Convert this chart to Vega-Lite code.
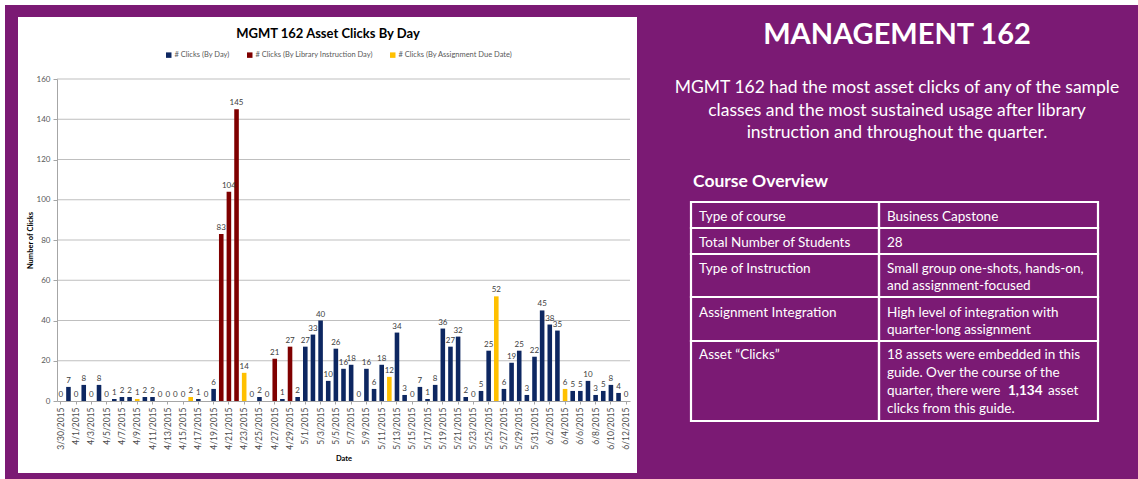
{
 "$schema": "https://vega.github.io/schema/vega-lite/v6.json",
 "background": "#7B1A74",
 "padding": 0,
 "autosize": {"type": "pad"},
 "spacing": 17,
 "bounds": "flush",
 "config": {"view": {"stroke": null}, "font": "Lato"},
 "hconcat": [
  {
   "width": 573,
   "height": 322,
   "resolve": {"scale": {"x": "independent", "y": "independent"}},
   "layer": [
    {
     "encoding": {
      "x": {"field": "x", "type": "quantitative", "scale": {"domain": [57, 630], "zero": false, "nice": false}, "axis": null},
      "y": {"field": "y", "type": "quantitative", "scale": {"domain": [79, 401], "zero": false, "nice": false, "reverse": true}, "axis": null}
     },
     "layer": [
      {
       "data": {"values": [
        {"x": 18, "x2": 637, "y": 17, "y2": 473},
        {"x": 0, "x2": 1138, "y": 0, "y2": 5},
        {"x": 0, "x2": 5, "y": 0, "y2": 479}
       ]},
       "mark": {"type": "rect", "fill": "#FFFFFF"},
       "encoding": {"x2": {"field": "x2"}, "y2": {"field": "y2"}}
      },
      {
       "data": {"values": [{"x": 328, "y": 34, "t": "MGMT 162 Asset Clicks By Day"}]},
       "mark": {"type": "text", "font": "Lato", "fontSize": 13, "fontWeight": "bold", "color": "#000000", "align": "center", "baseline": "middle"},
       "encoding": {"text": {"field": "t"}}
      }
     ]
    },
    {
     "data": {"values": [
      {"date": "3/30/2015", "clicks": 0, "series": "# Clicks (By Day)"},
      {"date": "3/31/2015", "clicks": 7, "series": "# Clicks (By Day)"},
      {"date": "4/1/2015", "clicks": 0, "series": "# Clicks (By Day)"},
      {"date": "4/2/2015", "clicks": 8, "series": "# Clicks (By Day)"},
      {"date": "4/3/2015", "clicks": 0, "series": "# Clicks (By Day)"},
      {"date": "4/4/2015", "clicks": 8, "series": "# Clicks (By Day)"},
      {"date": "4/5/2015", "clicks": 0, "series": "# Clicks (By Day)"},
      {"date": "4/6/2015", "clicks": 1, "series": "# Clicks (By Day)"},
      {"date": "4/7/2015", "clicks": 2, "series": "# Clicks (By Day)"},
      {"date": "4/8/2015", "clicks": 2, "series": "# Clicks (By Day)"},
      {"date": "4/9/2015", "clicks": 1, "series": "# Clicks (By Assignment Due Date)"},
      {"date": "4/10/2015", "clicks": 2, "series": "# Clicks (By Day)"},
      {"date": "4/11/2015", "clicks": 2, "series": "# Clicks (By Day)"},
      {"date": "4/12/2015", "clicks": 0, "series": "# Clicks (By Day)"},
      {"date": "4/13/2015", "clicks": 0, "series": "# Clicks (By Day)"},
      {"date": "4/14/2015", "clicks": 0, "series": "# Clicks (By Day)"},
      {"date": "4/15/2015", "clicks": 0, "series": "# Clicks (By Day)"},
      {"date": "4/16/2015", "clicks": 2, "series": "# Clicks (By Assignment Due Date)"},
      {"date": "4/17/2015", "clicks": 1, "series": "# Clicks (By Day)"},
      {"date": "4/18/2015", "clicks": 0, "series": "# Clicks (By Day)"},
      {"date": "4/19/2015", "clicks": 6, "series": "# Clicks (By Day)"},
      {"date": "4/20/2015", "clicks": 83, "series": "# Clicks (By Library Instruction Day)"},
      {"date": "4/21/2015", "clicks": 104, "series": "# Clicks (By Library Instruction Day)"},
      {"date": "4/22/2015", "clicks": 145, "series": "# Clicks (By Library Instruction Day)"},
      {"date": "4/23/2015", "clicks": 14, "series": "# Clicks (By Assignment Due Date)"},
      {"date": "4/24/2015", "clicks": 0, "series": "# Clicks (By Day)"},
      {"date": "4/25/2015", "clicks": 2, "series": "# Clicks (By Day)"},
      {"date": "4/26/2015", "clicks": 0, "series": "# Clicks (By Day)"},
      {"date": "4/27/2015", "clicks": 21, "series": "# Clicks (By Library Instruction Day)"},
      {"date": "4/28/2015", "clicks": 1, "series": "# Clicks (By Day)"},
      {"date": "4/29/2015", "clicks": 27, "series": "# Clicks (By Library Instruction Day)"},
      {"date": "4/30/2015", "clicks": 2, "series": "# Clicks (By Day)"},
      {"date": "5/1/2015", "clicks": 27, "series": "# Clicks (By Day)"},
      {"date": "5/2/2015", "clicks": 33, "series": "# Clicks (By Day)"},
      {"date": "5/3/2015", "clicks": 40, "series": "# Clicks (By Day)"},
      {"date": "5/4/2015", "clicks": 10, "series": "# Clicks (By Day)"},
      {"date": "5/5/2015", "clicks": 26, "series": "# Clicks (By Day)"},
      {"date": "5/6/2015", "clicks": 16, "series": "# Clicks (By Day)"},
      {"date": "5/7/2015", "clicks": 18, "series": "# Clicks (By Day)"},
      {"date": "5/8/2015", "clicks": 0, "series": "# Clicks (By Day)"},
      {"date": "5/9/2015", "clicks": 16, "series": "# Clicks (By Day)"},
      {"date": "5/10/2015", "clicks": 6, "series": "# Clicks (By Day)"},
      {"date": "5/11/2015", "clicks": 18, "series": "# Clicks (By Day)"},
      {"date": "5/12/2015", "clicks": 12, "series": "# Clicks (By Assignment Due Date)"},
      {"date": "5/13/2015", "clicks": 34, "series": "# Clicks (By Day)"},
      {"date": "5/14/2015", "clicks": 3, "series": "# Clicks (By Day)"},
      {"date": "5/15/2015", "clicks": 0, "series": "# Clicks (By Day)"},
      {"date": "5/16/2015", "clicks": 7, "series": "# Clicks (By Day)"},
      {"date": "5/17/2015", "clicks": 1, "series": "# Clicks (By Day)"},
      {"date": "5/18/2015", "clicks": 8, "series": "# Clicks (By Day)"},
      {"date": "5/19/2015", "clicks": 36, "series": "# Clicks (By Day)"},
      {"date": "5/20/2015", "clicks": 27, "series": "# Clicks (By Day)"},
      {"date": "5/21/2015", "clicks": 32, "series": "# Clicks (By Day)"},
      {"date": "5/22/2015", "clicks": 2, "series": "# Clicks (By Day)"},
      {"date": "5/23/2015", "clicks": 0, "series": "# Clicks (By Day)"},
      {"date": "5/24/2015", "clicks": 5, "series": "# Clicks (By Day)"},
      {"date": "5/25/2015", "clicks": 25, "series": "# Clicks (By Day)"},
      {"date": "5/26/2015", "clicks": 52, "series": "# Clicks (By Assignment Due Date)"},
      {"date": "5/27/2015", "clicks": 6, "series": "# Clicks (By Day)"},
      {"date": "5/28/2015", "clicks": 19, "series": "# Clicks (By Day)"},
      {"date": "5/29/2015", "clicks": 25, "series": "# Clicks (By Day)"},
      {"date": "5/30/2015", "clicks": 3, "series": "# Clicks (By Day)"},
      {"date": "5/31/2015", "clicks": 22, "series": "# Clicks (By Day)"},
      {"date": "6/1/2015", "clicks": 45, "series": "# Clicks (By Day)"},
      {"date": "6/2/2015", "clicks": 38, "series": "# Clicks (By Day)"},
      {"date": "6/3/2015", "clicks": 35, "series": "# Clicks (By Day)"},
      {"date": "6/4/2015", "clicks": 6, "series": "# Clicks (By Assignment Due Date)"},
      {"date": "6/5/2015", "clicks": 5, "series": "# Clicks (By Day)"},
      {"date": "6/6/2015", "clicks": 5, "series": "# Clicks (By Day)"},
      {"date": "6/7/2015", "clicks": 10, "series": "# Clicks (By Day)"},
      {"date": "6/8/2015", "clicks": 3, "series": "# Clicks (By Day)"},
      {"date": "6/9/2015", "clicks": 5, "series": "# Clicks (By Day)"},
      {"date": "6/10/2015", "clicks": 8, "series": "# Clicks (By Day)"},
      {"date": "6/11/2015", "clicks": 4, "series": "# Clicks (By Day)"},
      {"date": "6/12/2015", "clicks": 0, "series": "# Clicks (By Day)"}
     ]},
     "layer": [
      {
       "data": {"values": [{"v": 20}, {"v": 40}, {"v": 60}, {"v": 80}, {"v": 100}, {"v": 120}, {"v": 140}, {"v": 160}]},
       "mark": {"type": "rule", "color": "#BFBFBF", "strokeWidth": 1},
       "encoding": {
        "y": {
         "field": "v", "type": "quantitative", "scale": {"domain": [0, 160], "nice": false},
         "axis": {
          "orient": "left", "zindex": 1, "grid": false,
          "values": [0, 20, 40, 60, 80, 100, 120, 140, 160],
          "labelFont": "Lato", "labelFontSize": 8, "labelColor": "#595959", "labelPadding": 3,
          "tickSize": 4, "tickColor": "#A6A6A6", "domainColor": "#A6A6A6",
          "title": "Number of Clicks", "titleFont": "Lato", "titleFontSize": 7.5, "titleFontWeight": "bold", "titleColor": "#000000", "titlePadding": 2
         }
        }
       }
      },
      {
       "mark": {"type": "bar"},
       "encoding": {
        "x": {
         "field": "date", "type": "nominal", "sort": null,
         "scale": {"paddingInner": 0.4, "paddingOuter": 0.2},
         "axis": {
          "orient": "bottom", "zindex": 1,
          "values": ["3/30/2015", "4/1/2015", "4/3/2015", "4/5/2015", "4/7/2015", "4/9/2015", "4/11/2015", "4/13/2015", "4/15/2015", "4/17/2015", "4/19/2015", "4/21/2015", "4/23/2015", "4/25/2015", "4/27/2015", "4/29/2015", "5/1/2015", "5/3/2015", "5/5/2015", "5/7/2015", "5/9/2015", "5/11/2015", "5/13/2015", "5/15/2015", "5/17/2015", "5/19/2015", "5/21/2015", "5/23/2015", "5/25/2015", "5/27/2015", "5/29/2015", "5/31/2015", "6/2/2015", "6/4/2015", "6/6/2015", "6/8/2015", "6/10/2015", "6/12/2015"],
          "labelAngle": -90, "labelFont": "Lato", "labelFontSize": 8.5, "labelColor": "#4D4D4D", "labelPadding": 3,
          "ticks": true, "tickSize": 3, "tickColor": "#A6A6A6", "domainColor": "#A6A6A6",
          "title": "Date", "titleFont": "Lato", "titleFontSize": 7.5, "titleFontWeight": "bold", "titleColor": "#000000", "titlePadding": 5
         }
        },
        "y": {
         "field": "clicks", "type": "quantitative",
         "scale": {"domain": [0, 160], "nice": false},
         "axis": {
          "orient": "left", "zindex": 1, "grid": false,
          "values": [0, 20, 40, 60, 80, 100, 120, 140, 160],
          "labelFont": "Lato", "labelFontSize": 8, "labelColor": "#595959", "labelPadding": 3,
          "tickSize": 4, "tickColor": "#A6A6A6", "domainColor": "#A6A6A6",
          "title": "Number of Clicks", "titleFont": "Lato", "titleFontSize": 7.5, "titleFontWeight": "bold", "titleColor": "#000000", "titlePadding": 2
         }
        },
        "color": {
         "field": "series", "type": "nominal",
         "scale": {"domain": ["# Clicks (By Day)", "# Clicks (By Library Instruction Day)", "# Clicks (By Assignment Due Date)"], "range": ["#0D2761", "#7F0000", "#FFC000"]},
         "legend": {
          "orient": "none", "legendX": 108, "legendY": -28, "direction": "horizontal", "title": null, "zindex": 1,
          "symbolType": "square", "symbolSize": 30, "symbolStrokeWidth": 0,
          "labelFont": "Lato", "labelFontSize": 7.5, "labelColor": "#595959", "columnPadding": 16, "labelOffset": 2
         }
        }
       }
      },
      {
       "mark": {"type": "text", "font": "Lato", "fontSize": 8, "color": "#404040", "baseline": "bottom", "dy": -2},
       "encoding": {
        "x": {
         "field": "date", "type": "nominal", "sort": null,
         "axis": {
          "orient": "bottom", "zindex": 1,
          "values": ["3/30/2015", "4/1/2015", "4/3/2015", "4/5/2015", "4/7/2015", "4/9/2015", "4/11/2015", "4/13/2015", "4/15/2015", "4/17/2015", "4/19/2015", "4/21/2015", "4/23/2015", "4/25/2015", "4/27/2015", "4/29/2015", "5/1/2015", "5/3/2015", "5/5/2015", "5/7/2015", "5/9/2015", "5/11/2015", "5/13/2015", "5/15/2015", "5/17/2015", "5/19/2015", "5/21/2015", "5/23/2015", "5/25/2015", "5/27/2015", "5/29/2015", "5/31/2015", "6/2/2015", "6/4/2015", "6/6/2015", "6/8/2015", "6/10/2015", "6/12/2015"],
          "labelAngle": -90, "labelFont": "Lato", "labelFontSize": 8.5, "labelColor": "#4D4D4D", "labelPadding": 3,
          "ticks": true, "tickSize": 3, "tickColor": "#A6A6A6", "domainColor": "#A6A6A6",
          "title": "Date", "titleFont": "Lato", "titleFontSize": 7.5, "titleFontWeight": "bold", "titleColor": "#000000", "titlePadding": 5
         }
        },
        "y": {
         "field": "clicks", "type": "quantitative",
         "axis": {
          "orient": "left", "zindex": 1, "grid": false,
          "values": [0, 20, 40, 60, 80, 100, 120, 140, 160],
          "labelFont": "Lato", "labelFontSize": 8, "labelColor": "#595959", "labelPadding": 3,
          "tickSize": 4, "tickColor": "#A6A6A6", "domainColor": "#A6A6A6",
          "title": "Number of Clicks", "titleFont": "Lato", "titleFontSize": 7.5, "titleFontWeight": "bold", "titleColor": "#000000", "titlePadding": 2
         }
        },
        "text": {"field": "clicks"}
       }
      }
     ]
    }
   ]
  },
  {
   "width": 491,
   "height": 400,
   "encoding": {
    "x": {"field": "x", "type": "quantitative", "scale": {"domain": [647, 1138], "zero": false, "nice": false}, "axis": null},
    "y": {"field": "y", "type": "quantitative", "scale": {"domain": [79, 479], "zero": false, "nice": false, "reverse": true}, "axis": null}
   },
   "layer": [
    {
     "data": {"values": [
      {"x": 691, "x2": 879, "y": 202, "y2": 228},
      {"x": 879, "x2": 1098, "y": 202, "y2": 228},
      {"x": 691, "x2": 879, "y": 228, "y2": 254},
      {"x": 879, "x2": 1098, "y": 228, "y2": 254},
      {"x": 691, "x2": 879, "y": 254, "y2": 297},
      {"x": 879, "x2": 1098, "y": 254, "y2": 297},
      {"x": 691, "x2": 879, "y": 297, "y2": 341},
      {"x": 879, "x2": 1098, "y": 297, "y2": 341},
      {"x": 691, "x2": 879, "y": 341, "y2": 421},
      {"x": 879, "x2": 1098, "y": 341, "y2": 421}
     ]},
     "mark": {"type": "rect", "fillOpacity": 0, "stroke": "#FFFFFF", "strokeWidth": 2.2},
     "encoding": {"x2": {"field": "x2"}, "y2": {"field": "y2"}}
    },
    {
     "data": {"values": [{"x": 897, "y": 35, "t": "MANAGEMENT 162"}]},
     "mark": {"type": "text", "font": "Lato", "fontSize": 29, "fontWeight": "bold", "color": "#FFFFFF", "align": "center", "baseline": "middle"},
     "encoding": {"text": {"field": "t"}}
    },
    {
     "data": {"values": [
      {"x": 897, "y": 88, "t": "MGMT 162 had the most asset clicks of any of the sample"},
      {"x": 897, "y": 111, "t": "classes and the most sustained usage after library"},
      {"x": 897, "y": 133, "t": "instruction and throughout the quarter."}
     ]},
     "mark": {"type": "text", "font": "Lato", "fontSize": 17.5, "color": "#FFFFFF", "align": "center", "baseline": "middle"},
     "encoding": {"text": {"field": "t"}}
    },
    {
     "data": {"values": [{"x": 693, "y": 182, "t": "Course Overview"}]},
     "mark": {"type": "text", "font": "Lato", "fontSize": 17.5, "fontWeight": "bold", "color": "#FFFFFF", "align": "left", "baseline": "middle"},
     "encoding": {"text": {"field": "t"}}
    },
    {
     "data": {"values": [
      {"x": 699, "y": 217, "t": "Type of course"},
      {"x": 699, "y": 243, "t": "Total Number of Students"},
      {"x": 699, "y": 269, "t": "Type of Instruction"},
      {"x": 699, "y": 313, "t": "Assignment Integration"},
      {"x": 699, "y": 355, "t": "Asset “Clicks”"},
      {"x": 887, "y": 217, "t": "Business Capstone"},
      {"x": 887, "y": 243, "t": "28"},
      {"x": 887, "y": 269, "t": "Small group one-shots, hands-on,"},
      {"x": 887, "y": 286, "t": "and assignment-focused"},
      {"x": 887, "y": 313, "t": "High level of integration with"},
      {"x": 887, "y": 330, "t": "quarter-long assignment"},
      {"x": 887, "y": 355, "t": "18 assets were embedded in this"},
      {"x": 887, "y": 373, "t": "guide.  Over the course of the"},
      {"x": 887, "y": 391, "t": "quarter, there were"},
      {"x": 1048, "y": 391, "t": "asset"},
      {"x": 887, "y": 409, "t": "clicks from this guide."}
     ]},
     "mark": {"type": "text", "font": "Lato", "fontSize": 13.5, "color": "#FFFFFF", "align": "left", "baseline": "middle"},
     "encoding": {"text": {"field": "t"}}
    },
    {
     "data": {"values": [{"x": 1008, "y": 391, "t": "1,134"}]},
     "mark": {"type": "text", "font": "Lato", "fontSize": 13.5, "fontWeight": "bold", "color": "#FFFFFF", "align": "left", "baseline": "middle"},
     "encoding": {"text": {"field": "t"}}
    }
   ]
  }
 ]
}
